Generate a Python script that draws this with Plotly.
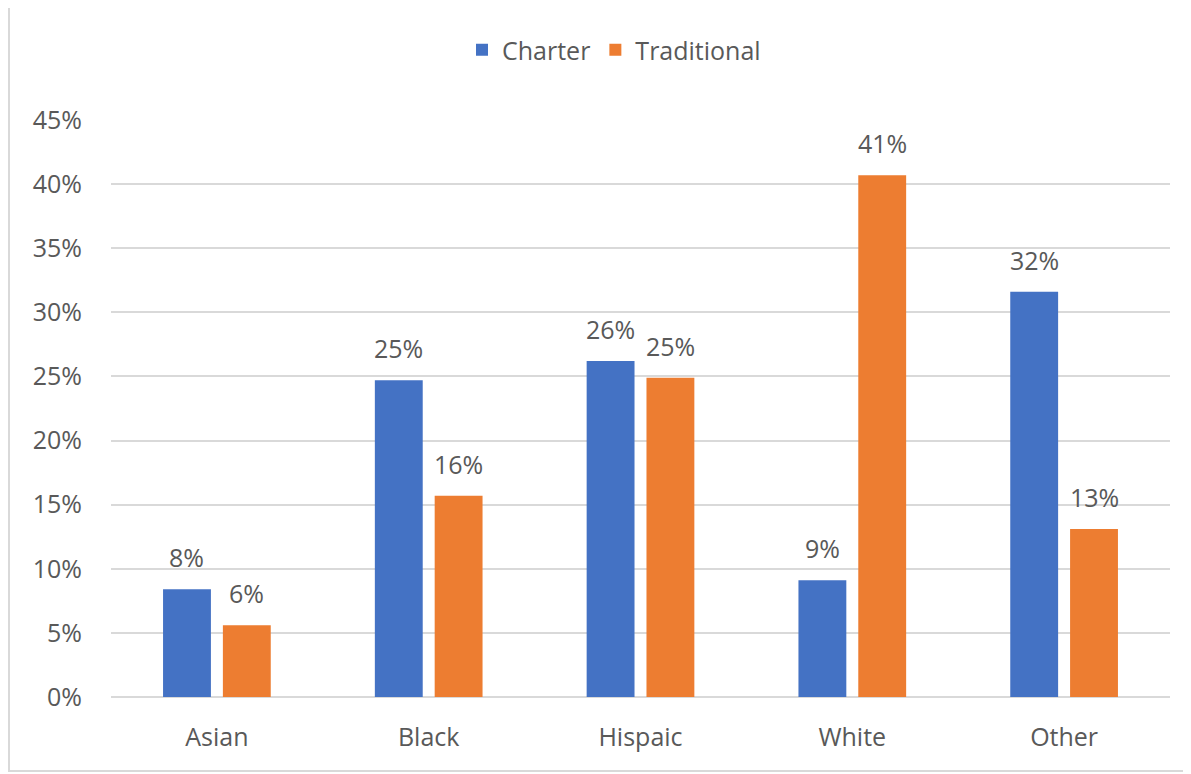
import plotly.graph_objects as go

categories = ["Asian", "Black", "Hispaic", "White", "Other"]
charter = [0.084, 0.247, 0.262, 0.091, 0.316]
traditional = [0.056, 0.157, 0.249, 0.407, 0.131]
series_names = ["Charter", "Traditional"]
colors = ["#4472C4", "#ED7D31"]

# page has an 8px body margin; figure is placed at (8, 8)
OFF = 8
W, H = 1191 - OFF, 774 - OFF
L, R, T, B = 111 - OFF, 21, 120 - OFF, 77
pw, ph = W - L - R, H - T - B

text_col = "#595959"
font_fam = "Open Sans, Noto Sans, sans-serif"
FS = 25

fig = go.Figure()
for name, vals, col in zip(series_names, [charter, traditional], colors):
    fig.add_trace(go.Bar(
        x=categories, y=vals, name=name,
        marker=dict(color=col, line=dict(width=0)),
        cliponaxis=False,
    ))

# data labels above the bars
for vals, shift in zip([charter, traditional], [-30, 30]):
    for c, v in zip(categories, vals):
        fig.add_annotation(x=c, y=v, text=f"{v:.0%}", showarrow=False,
                           xshift=shift, yshift=13, yanchor="bottom",
                           font=dict(size=FS, color=text_col, family=font_fam))

def px_x(p):
    return (p - OFF - L) / pw

def px_y(p):
    return (H - B - (p - OFF)) / ph

fig.add_shape(type="rect", xref="paper", yref="paper",
              x0=px_x(9), x1=px_x(1187), y0=px_y(771), y1=px_y(4),
              line=dict(color="#d9d9d9", width=2), fillcolor="rgba(0,0,0,0)", layer="below")

fig.update_layout(
    width=W, height=H,
    margin=dict(l=L, r=R, t=T, b=B, pad=0),
    paper_bgcolor="white", plot_bgcolor="white",
    barmode="group", bargap=0.435, bargroupgap=0.2,
    font=dict(family=font_fam, size=FS, color=text_col),
    legend=dict(orientation="h", x=px_x(614), xanchor="center", y=px_y(50), yanchor="middle",
                font=dict(size=FS, color=text_col), traceorder="normal"),
    xaxis=dict(showgrid=False, showline=False, ticks="", ticklabelstandoff=23,
               tickfont=dict(size=FS, color=text_col)),
    yaxis=dict(range=[0, 0.45], dtick=0.05, tickformat=".0%", showgrid=True,
               gridcolor="#d9d9d9", gridwidth=1.5, zeroline=True, zerolinecolor="#d9d9d9",
               zerolinewidth=1.5, showline=False, ticks="", ticklabelstandoff=28,
               tickfont=dict(size=FS, color=text_col)),
)

fig.write_html("out.html")
